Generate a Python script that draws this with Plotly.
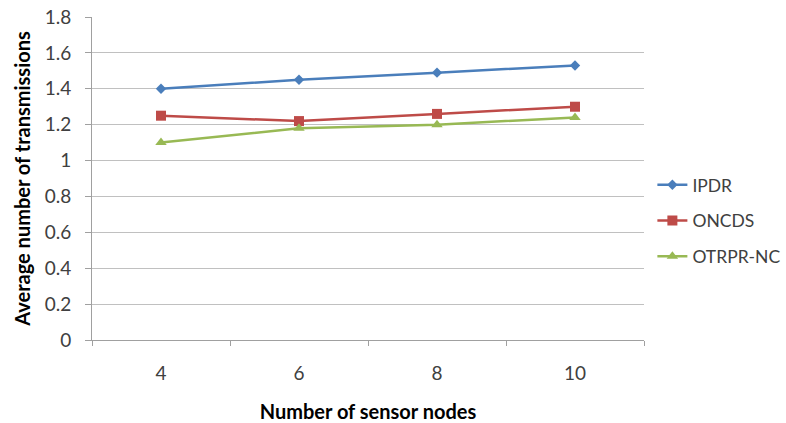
import plotly.graph_objects as go

categories = ["4", "6", "8", "10"]
ipdr = [1.40, 1.45, 1.49, 1.53]
oncds = [1.25, 1.22, 1.26, 1.30]
otrpr = [1.10, 1.18, 1.20, 1.24]
y_ticks = [0, 0.2, 0.4, 0.6, 0.8, 1, 1.2, 1.4, 1.6, 1.8]

font_family = "Lato, 'Open Sans', sans-serif"

fig = go.Figure()
series = [
    ("IPDR", ipdr, "#4a7ebb", "diamond", 8),
    ("ONCDS", oncds, "#be4b48", "square", 10),
    ("OTRPR-NC", otrpr, "#98b954", "triangle-up", 10),
]
for name, vals, color, sym, size in series:
    fig.add_trace(go.Scatter(
        x=categories, y=vals, name=name, mode="lines+markers",
        line=dict(color=color, width=2.5),
        marker=dict(symbol=sym, size=size, color=color),
        legendgroup=name,
    ))

fig.update_layout(
    width=786, height=423,
    margin=dict(l=92, r=142, t=17, b=83),
    paper_bgcolor="white", plot_bgcolor="white",
    font=dict(family=font_family, size=19, color="#404040"),
    showlegend=True,
    legend=dict(
        xref="container", yref="container",
        x=0.830, xanchor="left", y=0.478, yanchor="middle",
        font=dict(size=17.5, color="#404040"),
        tracegroupgap=10, itemwidth=30,
        bgcolor="rgba(0,0,0,0)",
    ),
    xaxis=dict(
        type="category", tickson="boundaries", automargin=False,
        ticks="outside", ticklen=5, tickcolor="#a0a0a0",
        showline=True, linecolor="#a0a0a0", linewidth=1,
        showgrid=False, zeroline=False,
        tickfont=dict(size=19, color="#404040"),
        ticklabelstandoff=16,
        title=dict(text="<b>Number of sensor nodes</b>", font=dict(size=20, color="#000000"), standoff=22),
        range=[-0.5, 3.5],
    ),
    yaxis=dict(
        range=[0, 1.8], tickvals=y_ticks, automargin=False,
        ticks="outside", ticklen=6, tickcolor="#a0a0a0",
        showline=True, linecolor="#a0a0a0", linewidth=1,
        showgrid=True, gridcolor="#c0c0c0", gridwidth=1,
        zeroline=False,
        ticklabelstandoff=10,
        tickfont=dict(size=19, color="#404040"),
        title=dict(text="<b>Average number of transmissions</b>", font=dict(size=20, color="#000000"), standoff=8),
    ),
)

fig.write_html("out.html")
